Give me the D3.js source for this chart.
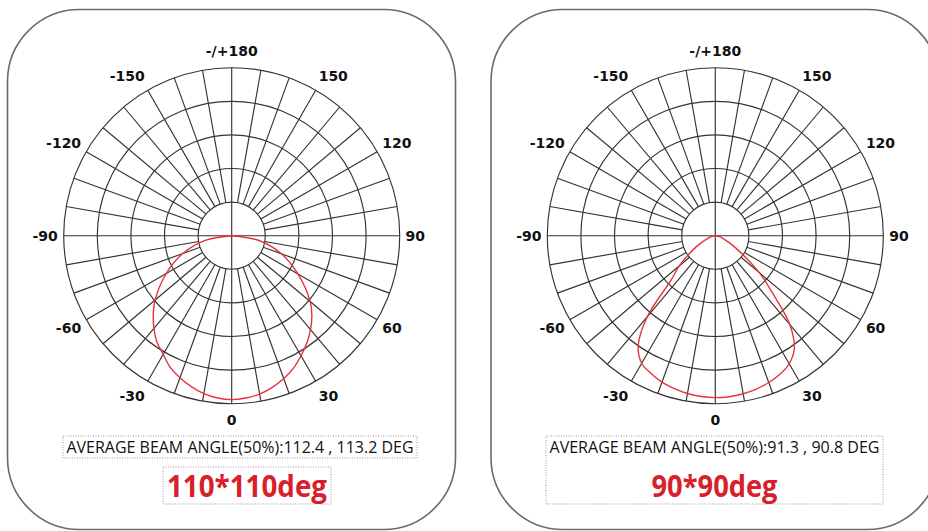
<!DOCTYPE html>
<html>
<head>
<meta charset="utf-8">
<script src="https://cdn.jsdelivr.net/npm/d3@7"></script>
<style>
  body { margin: 0; background: #fff; }
  svg { display: block; }
</style>
</head>
<body>
<script>
// angles in degrees, 0 = straight down, positive to the right
const angles = [-90, -80, -70, -60, -50, -45, -40, -35, -30, -25, -20, -15, -10, -5, 0,
                5, 10, 15, 20, 25, 30, 35, 40, 45, 50, 60, 70, 80, 90];

// relative intensity (110*110)
const wideValues = [0, 0.16, 0.31, 0.45, 0.595, 0.66, 0.72, 0.775, 0.815, 0.865, 0.9, 0.93, 0.955, 0.97, 0.976,
                    0.97, 0.957, 0.935, 0.905, 0.87, 0.825, 0.78, 0.73, 0.675, 0.61, 0.455, 0.315, 0.165, 0];

// relative intensity (90*90)
const narrowValues = [0, 0.02, 0.05, 0.13, 0.28, 0.37, 0.63, 0.8, 0.877, 0.905, 0.928, 0.943, 0.954, 0.961, 0.964,
                      0.962, 0.955, 0.945, 0.93, 0.91, 0.88, 0.82, 0.69, 0.48, 0.34, 0.13, 0.05, 0.02, 0];

const ringValues = [0.2, 0.4, 0.6, 0.8, 1.0];
const labelAngles = [180, -150, 150, -120, 120, -90, 90, -60, 60, -30, 30, 0];
const labelTexts = ["-/+180", "-150", "150", "-120", "120", "-90", "90", "-60", "60", "-30", "30", "0"];

const beamTexts = ["AVERAGE BEAM ANGLE(50%):112.4 , 113.2 DEG", "AVERAGE BEAM ANGLE(50%):91.3 , 90.8 DEG"];
const nominalTexts = ["110*110deg", "90*90deg"];

const width = 928, height = 531;
const svg = d3.select("body").append("svg")
    .attr("width", width)
    .attr("height", height);

const r = d3.scaleLinear().domain([0, 1]).range([0, 168]);
const rad = a => a * Math.PI / 180;

function drawPanel(px, cx, values, beamText, nominalText, boxes, nominalWidth) {
    const panel = svg.append("g");

    // rounded frame
    panel.append("rect")
        .attr("x", px).attr("y", 9.5)
        .attr("width", 448).attr("height", 520)
        .attr("rx", 72).attr("ry", 72)
        .attr("fill", "none")
        .attr("stroke", "#6b6b6b")
        .attr("stroke-width", 1.6);

    const g = panel.append("g").attr("transform", `translate(${cx},235.7)`);

    // rings
    g.selectAll("circle.ring")
        .data(ringValues)
        .enter().append("circle")
        .attr("class", "ring")
        .attr("r", d => r(d))
        .attr("fill", "none")
        .attr("stroke", "#333")
        .attr("stroke-width", 1.15);

    // spokes every 10 deg, main axes go through the middle
    const spokes = d3.range(-170, 181, 10);
    g.selectAll("line.spoke")
        .data(spokes)
        .enter().append("line")
        .attr("class", "spoke")
        .attr("x1", d => (d % 90 === 0 ? 0 : r(0.2)) * Math.sin(rad(d)))
        .attr("y1", d => (d % 90 === 0 ? 0 : r(0.2)) * Math.cos(rad(d)))
        .attr("x2", d => r(1) * Math.sin(rad(d)))
        .attr("y2", d => r(1) * Math.cos(rad(d)))
        .attr("stroke", "#333")
        .attr("stroke-width", 1.15);

    // angle labels, pushed out sideways like the original
    g.selectAll("text.lbl")
        .data(labelAngles)
        .enter().append("text")
        .attr("class", "lbl")
        .attr("x", d => r(1.035) * Math.sin(rad(d)))
        .attr("y", d => r(1.1) * Math.cos(rad(d)))
        .attr("text-anchor", d => (d === 0 || d === 180) ? "middle" : (d > 0 ? "start" : "end"))
        .attr("dominant-baseline", "central")
        .attr("font-family", "DejaVu Sans")
        .attr("font-weight", "bold")
        .attr("font-size", 14)
        .attr("fill", "#111")
        .text((d, i) => labelTexts[i]);

    // intensity curve
    const pts = angles.map((a, i) => ({a: a, v: values[i]}));
    const line = d3.lineRadial()
        .angle(d => Math.PI - rad(d.a))
        .radius(d => r(d.v))
        .curve(d3.curveCatmullRom.alpha(0.5));
    g.append("path")
        .datum(pts)
        .attr("d", line)
        .attr("fill", "none")
        .attr("stroke", "#e8323a")
        .attr("stroke-width", 1.4);

    // dotted boxes
    panel.selectAll("rect.box")
        .data(boxes)
        .enter().append("rect")
        .attr("class", "box")
        .attr("x", d => d[0]).attr("y", d => d[1])
        .attr("width", d => d[2] - d[0]).attr("height", d => d[3] - d[1])
        .attr("fill", "none")
        .attr("stroke", "#9a9a9a")
        .attr("stroke-width", 1)
        .attr("stroke-dasharray", "1,1.5");

    const b0 = boxes[0];
    panel.append("text")
        .attr("x", (b0[0] + b0[2]) / 2).attr("y", 453)
        .attr("text-anchor", "middle")
        .attr("font-family", "Open Sans")
        .attr("font-size", 16)
        .attr("fill", "#111")
        .attr("textLength", b0[2] - b0[0] - 7)
        .attr("lengthAdjust", "spacingAndGlyphs")
        .text(beamText);

    const b1 = boxes[boxes.length - 1];
    panel.append("text")
        .attr("x", (b1[0] + b1[2]) / 2).attr("y", 497)
        .attr("text-anchor", "middle")
        .attr("font-family", "Open Sans")
        .attr("font-weight", "bold")
        .attr("font-size", 30)
        .attr("fill", "#d8202c")
        .attr("textLength", nominalWidth)
        .attr("lengthAdjust", "spacingAndGlyphs")
        .text(nominalText);
}

drawPanel(7.5, 231.7, wideValues, beamTexts[0], nominalTexts[0],
    [[63, 436, 417, 458], [163, 467, 331, 504]], 160);
drawPanel(491, 715.3, narrowValues, beamTexts[1], nominalTexts[1],
    [[546, 436, 883, 504]], 126);
</script>
</body>
</html>
